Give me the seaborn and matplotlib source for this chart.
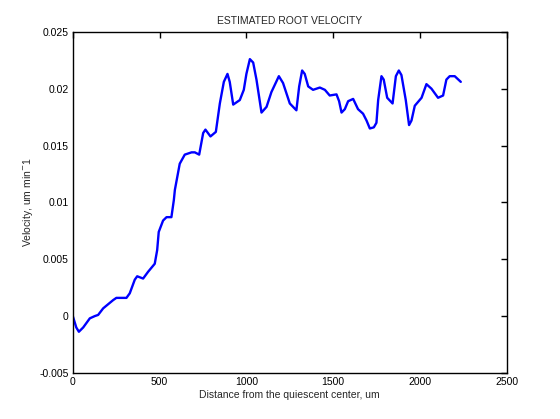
import matplotlib
matplotlib.use("Agg")
import matplotlib.pyplot as plt
import seaborn as sns
import pandas as pd

# distance from the quiescent center (um) and estimated velocity
distance = [0, 20, 35, 60, 98, 127, 146, 175, 232, 251, 309, 328, 357, 371, 405, 434,
            472, 486, 495, 520, 540, 568, 582, 588, 616, 645, 684, 703, 728, 751, 764,
            793, 824, 847, 870, 891, 904, 924, 962, 985, 1000, 1020, 1039, 1058, 1087,
            1116, 1144, 1187, 1211, 1250, 1288, 1304, 1321, 1336, 1356, 1384, 1423,
            1452, 1480, 1519, 1534, 1548, 1567, 1586, 1615, 1643, 1672, 1692, 1711,
            1734, 1749, 1759, 1778, 1791, 1811, 1842, 1861, 1878, 1893, 1918, 1937,
            1951, 1970, 2009, 2037, 2066, 2104, 2133, 2152, 2171, 2200, 2235]
velocity = [0.0, -0.0010, -0.00138, -0.0010, -0.0002, 0.0, 0.0001, 0.00068, 0.0014,
            0.0016, 0.0016, 0.0020, 0.0032, 0.0035, 0.0033, 0.0039, 0.0046, 0.0058,
            0.0074, 0.0084, 0.0087, 0.0087, 0.0102, 0.0111, 0.0134, 0.0142, 0.0144,
            0.0144, 0.0142, 0.0161, 0.0164, 0.0158, 0.0162, 0.0187, 0.0206, 0.0213,
            0.0206, 0.0186, 0.0190, 0.0199, 0.0213, 0.0226, 0.0223, 0.0208, 0.0179,
            0.0184, 0.0197, 0.0211, 0.0205, 0.0187, 0.0181, 0.0202, 0.0216, 0.0213,
            0.0202, 0.0199, 0.0201, 0.0199, 0.0194, 0.0195, 0.0189, 0.0179, 0.0182,
            0.0189, 0.0191, 0.0182, 0.0178, 0.0172, 0.0165, 0.0166, 0.0170, 0.0190,
            0.0211, 0.0208, 0.0192, 0.0187, 0.0211, 0.0216, 0.0212, 0.0190, 0.0168,
            0.0172, 0.0185, 0.0192, 0.0204, 0.0200, 0.0192, 0.0194, 0.0208, 0.0211,
            0.0211, 0.0206]

x_ticks = [0, 500, 1000, 1500, 2000, 2500]
y_ticks = [-0.005, 0, 0.005, 0.01, 0.015, 0.02, 0.025]
y_tick_labels = ["-0.005", "0", "0.005", "0.01", "0.015", "0.02", "0.025"]

df = pd.DataFrame({"distance": distance, "velocity": velocity})

sns.set_style("white")
plt.rcParams["font.family"] = ["Liberation Sans", "DejaVu Sans"]

fig = plt.figure(figsize=(5.6, 4.19), dpi=100)
ax = fig.add_axes([0.130, 0.110, 0.775, 0.814])

sns.lineplot(data=df, x="distance", y="velocity", ax=ax, color="#0000ff", linewidth=1.7)

ax.set_xlim(0, 2500)
ax.set_ylim(-0.005, 0.025)
ax.set_xticks(x_ticks)
ax.set_xticklabels([str(t) for t in x_ticks])
ax.set_yticks(y_ticks)
ax.set_yticklabels(y_tick_labels)
ax.tick_params(direction="in", length=4, width=1, top=True, right=True,
               labelsize=7.5, colors="black", pad=3)
for sp in ax.spines.values():
    sp.set_color("black")
    sp.set_linewidth(1)

ax.set_title("ESTIMATED ROOT VELOCITY", fontsize=7.5, pad=6)
ax.set_xlabel("Distance from the quiescent center, um", fontsize=7.5, labelpad=2)
ax.set_ylabel("Velocity, um min$^{-}$1", fontsize=7.5, labelpad=3)

fig.savefig("out.png", dpi=100, facecolor="white")
